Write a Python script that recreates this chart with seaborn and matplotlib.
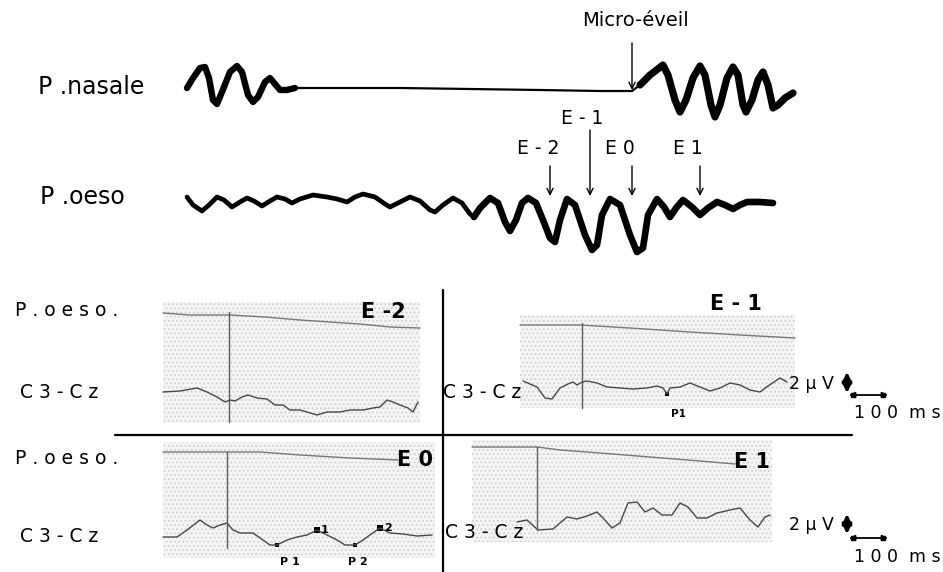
import matplotlib
matplotlib.use("Agg")
import matplotlib.pyplot as plt
from matplotlib.patches import Rectangle
import pandas as pd
import seaborn as sns

sns.set_theme(style="white")
plt.rcParams["font.family"] = ["DejaVu Sans"]

# Sheet units: x to the right, y downward (943 x 572 sheet)
W, H = 943, 572

# ---------------- upper recordings (nasal pressure, oesophageal pressure) ----
nasal_x = [187, 193, 200, 205, 209, 213, 217, 222, 230, 237, 242, 248, 253, 258,
           265, 270, 275, 280, 287, 295, 330, 400, 470, 540, 600, 632,
           640, 650, 663, 668, 675, 680, 686, 693, 700, 705, 711, 715, 720, 727,
           733, 738, 743, 746, 752, 758, 763, 768, 773, 778, 785, 793]
nasal_y = [88, 78, 68, 67, 78, 100, 104, 92, 72, 66, 72, 95, 102, 97,
           82, 78, 84, 90, 90, 88, 88, 88, 89, 90, 91, 91,
           85, 75, 65, 75, 100, 112, 100, 78, 66, 75, 105, 117, 105, 78,
           67, 75, 105, 112, 100, 80, 72, 85, 108, 105, 98, 93]

oeso_x = [187, 193, 202, 209, 217, 224, 232, 240, 247, 254, 262, 270, 277, 285,
          292, 300, 313, 327, 337, 347, 355, 363, 375, 385, 390, 398, 410, 420,
          430, 435, 443, 453, 462, 470, 474, 480, 490, 498, 505, 510, 516, 522,
          528, 536, 545, 550, 555, 560, 567, 575, 585, 592, 597, 602, 610, 620,
          630, 637, 643, 648, 657, 664, 670, 676, 683, 692, 700, 708, 717, 725,
          733, 740, 747, 760, 773]
oeso_y = [197, 205, 211, 205, 197, 200, 207, 202, 198, 201, 206, 201, 197, 199,
          203, 199, 195, 197, 199, 202, 197, 194, 197, 204, 207, 203, 197, 201,
          210, 212, 205, 198, 203, 214, 217, 208, 198, 203, 222, 231, 220, 203,
          198, 203, 225, 238, 242, 220, 199, 205, 235, 250, 245, 215, 199, 205,
          235, 252, 248, 215, 199, 207, 217, 208, 200, 207, 215, 208, 202, 205,
          209, 205, 202, 202, 203]

event_names = ["E - 2", "E - 1", "E 0", "E 1"]
event_x = [550, 590, 632, 700]
arousal_x = 632

# ---------------- averaged EEG windows ---------------------------------------
# each window: P.oeso reference line (top) and C3-Cz trace (bottom)
e2_top_x = [163, 190, 230, 265, 300, 330, 360, 390, 420]
e2_top_y = [313, 315, 315, 317, 320, 322, 324, 327, 328]
e2_eeg_x = [163, 180, 197, 207, 217, 225, 230, 235, 242, 248, 257, 267, 275, 283,
            290, 300, 307, 317, 327, 340, 350, 363, 373, 380, 387, 393, 400, 408,
            413, 418]
e2_eeg_y = [392, 391, 388, 392, 397, 402, 400, 401, 397, 395, 398, 399, 405, 405,
            410, 410, 412, 415, 412, 412, 410, 410, 408, 407, 400, 402, 405, 408,
            412, 402]

e1_top_x = [520, 580, 630, 690, 740, 795]
e1_top_y = [325, 325, 328, 332, 335, 338]
e1_eeg_x = [523, 537, 545, 552, 560, 568, 573, 577, 582, 587, 597, 607, 620, 633,
            647, 657, 663, 667, 670, 680, 690, 700, 710, 720, 730, 740, 750, 760,
            768, 780, 787]
e1_eeg_y = [381, 387, 398, 399, 388, 384, 382, 385, 382, 381, 383, 387, 388, 389,
            388, 386, 388, 394, 388, 387, 383, 387, 391, 388, 383, 385, 390, 392,
            386, 378, 382]

e0_top_x = [163, 260, 300, 350, 398]
e0_top_y = [452, 452, 455, 458, 460]
e0_eeg_x = [163, 177, 187, 200, 207, 213, 220, 227, 233, 240, 253, 263, 270, 277,
            287, 297, 307, 317, 327, 337, 345, 355, 363, 370, 380, 390, 403, 417,
            432]
e0_eeg_y = [537, 537, 530, 520, 525, 528, 525, 523, 530, 533, 533, 540, 545, 545,
            540, 537, 535, 530, 535, 540, 545, 545, 540, 535, 528, 533, 534, 536,
            535]
e0_peak_names = ["P 1", "N1", "P 2", "N2"]
e0_peak_idx = [13, 17, 21, 24]

e1b_top_x = [472, 537, 560, 600, 650, 700, 735]
e1b_top_y = [447, 447, 450, 453, 457, 461, 464]
e1b_eeg_x = [517, 527, 538, 553, 567, 577, 587, 597, 603, 612, 620, 628, 637, 645,
             653, 662, 672, 680, 688, 697, 707, 717, 730, 740, 750, 758, 765, 770]
e1b_eeg_y = [522, 520, 530, 529, 517, 519, 516, 512, 518, 528, 523, 503, 502, 512,
             508, 515, 515, 503, 507, 518, 518, 513, 510, 508, 520, 527, 517, 515]


def trace(ax, xs, ys, **kw):
    df = pd.DataFrame({"x": xs, "y": ys})
    sns.lineplot(data=df, x="x", y="y", sort=False, estimator=None, ax=ax,
                 solid_joinstyle="round", solid_capstyle="round", **kw)


def arrow(ax, x, y0, y1, lw=1.0):
    ax.annotate("", xy=(x, y1), xytext=(x, y0),
                arrowprops=dict(arrowstyle="->", lw=lw, color="black",
                                shrinkA=0, shrinkB=0, mutation_scale=11))


fig = plt.figure(figsize=(W / 100, H / 100), dpi=100)
ax = fig.add_axes([0, 0, 1, 1])

# --- nasal pressure: thin flat apnoea part, thick breathing parts
trace(ax, nasal_x, nasal_y, color="black", lw=1.6)
left = [(x, y) for x, y in zip(nasal_x, nasal_y) if x <= 300]
right = [(x, y) for x, y in zip(nasal_x, nasal_y) if x >= 636]
trace(ax, [p[0] for p in left], [p[1] for p in left], color="black", lw=4.6)
trace(ax, [p[0] for p in right], [p[1] for p in right], color="black", lw=5.2)

# --- oesophageal pressure: efforts growing until the arousal
early = [(x, y) for x, y in zip(oeso_x, oeso_y) if x <= 480]
late = [(x, y) for x, y in zip(oeso_x, oeso_y) if x >= 474]
trace(ax, [p[0] for p in early], [p[1] for p in early], color="black", lw=3.4)
trace(ax, [p[0] for p in late], [p[1] for p in late], color="black", lw=4.8)

txt = dict(color="black", va="center")
ax.text(38, 87, "P .nasale", fontsize=17, ha="left", **txt)
ax.text(40, 197, "P .oeso", fontsize=17, ha="left", **txt)
ax.text(arousal_x + 3, 21, "Micro-éveil", fontsize=14, ha="center", **txt)
arrow(ax, arousal_x, 43, 90)

label_y = [148, 119, 148, 148]
arrow_top = [166, 130, 166, 166]
for name, x, ly, top in zip(event_names, event_x, label_y, arrow_top):
    ax.text(x - 12 if name != "E - 1" else x - 8, ly, name, fontsize=13.5,
            ha="center", **txt)
    arrow(ax, x, top, 196)

# --- windows grid
ax.plot([115, 852], [435, 435], color="black", lw=1.6)
ax.plot([443, 443], [290, H], color="black", lw=1.6)

windows = [
    dict(box=(163, 302, 257, 121), top=(e2_top_x, e2_top_y), eeg=(e2_eeg_x, e2_eeg_y),
         stim=(229, 312, 422), name="E -2", name_xy=(383, 312)),
    dict(box=(520, 315, 275, 93), top=(e1_top_x, e1_top_y), eeg=(e1_eeg_x, e1_eeg_y),
         stim=(582, 323, 408), name="E - 1", name_xy=(736, 304)),
    dict(box=(163, 442, 272, 116), top=(e0_top_x, e0_top_y), eeg=(e0_eeg_x, e0_eeg_y),
         stim=(227, 452, 548), name="E 0", name_xy=(415, 460)),
    dict(box=(472, 440, 300, 102), top=(e1b_top_x, e1b_top_y), eeg=(e1b_eeg_x, e1b_eeg_y),
         stim=(537, 447, 530), name="E 1", name_xy=(752, 462)),
]

plt.rcParams["hatch.linewidth"] = 0.7
for w in windows:
    x0, y0, bw, bh = w["box"]
    ax.add_patch(Rectangle((x0, y0), bw, bh, facecolor="#f4f4f4",
                           edgecolor="#cdcdcd", hatch="....", lw=0, zorder=0))
    trace(ax, *w["top"], color="#777777", lw=1.0)
    trace(ax, *w["eeg"], color="#474747", lw=1.0)
    sx, sy0, sy1 = w["stim"]
    ax.plot([sx, sx], [sy0, sy1], color="#5a5a5a", lw=1.0)
    ax.text(*w["name_xy"], w["name"], fontsize=15, fontweight="bold",
            ha="center", **txt)

# row labels
for y_top, y_eeg in [(311, 393), (458, 537)]:
    ax.text(15, y_top, "P . o e s o .", fontsize=13.5, ha="left", **txt)
    ax.text(20, y_eeg, "C 3 - C z", fontsize=13.5, ha="left", **txt)
ax.text(443, 393, "C 3 - C z", fontsize=13.5, ha="left", **txt)
ax.text(445, 533, "C 3 - C z", fontsize=13.5, ha="left", **txt)

# peak marks
ax.text(678, 414, "P1", fontsize=7.5, fontweight="bold", ha="center", **txt)
pk_x = [e0_eeg_x[i] for i in e0_peak_idx]
pk_y = [e0_eeg_y[i] for i in e0_peak_idx]
sns.scatterplot(x=[e1_eeg_x[17]], y=[e1_eeg_y[17]], color="black", s=6,
                marker="s", ax=ax, linewidth=0)
sns.scatterplot(x=[pk_x[0], pk_x[2]], y=[pk_y[0], pk_y[2]], color="black", s=6,
                marker="s", ax=ax, linewidth=0)
sns.scatterplot(x=[pk_x[1], pk_x[3]], y=[pk_y[1], pk_y[3]], color="black", s=22,
                marker="s", ax=ax, linewidth=0)
for name, x, y in zip(e0_peak_names, pk_x, pk_y):
    if name.startswith("P"):
        ax.text(x + 13 if name == "P 1" else x + 3, y + 17, name, fontsize=8,
                fontweight="bold", ha="center", **txt)
    else:
        ax.text(x + 8, y, name[1], fontsize=8, fontweight="bold",
                ha="center", **txt)

# calibration bars
for ytxt, yv0, yv1, yh, ylab in [(384, 372, 393, 395, 413), (525, 514, 534, 538, 557)]:
    ax.text(811, ytxt, "2 µ V", fontsize=12.5, ha="center", **txt)
    ax.annotate("", xy=(847, yv0), xytext=(847, yv1),
                arrowprops=dict(arrowstyle="<|-|>", lw=2.2, color="black",
                                shrinkA=0, shrinkB=0, mutation_scale=14))
    ax.annotate("", xy=(849, yh), xytext=(888, yh),
                arrowprops=dict(arrowstyle="<|-|>", lw=1.3, color="black",
                                shrinkA=0, shrinkB=0, mutation_scale=8))
    ax.plot([853, 883], [yh, yh], ls="none", marker="s", ms=3.5, color="black")
    ax.text(941, ylab, "1 0 0  m s", fontsize=12.5, ha="right", **txt)

ax.set_xlim(0, W)
ax.set_ylim(H, 0)
ax.axis("off")
fig.savefig("out.png", dpi=100, facecolor="white")
